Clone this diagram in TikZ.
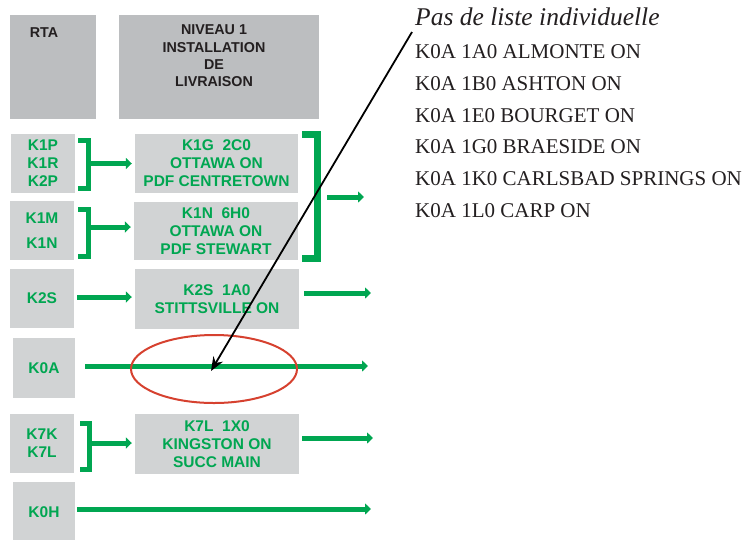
\documentclass[tikz,border=0pt]{standalone}
\usepackage{fontspec}
\setmainfont{Liberation Serif}
\setsansfont{Liberation Sans}
\usetikzlibrary{arrows.meta,shapes.geometric}
\definecolor{hdrgray}{HTML}{BCBEC0}
\definecolor{boxgray}{HTML}{D1D3D4}
\definecolor{pgreen}{HTML}{00A651}
\definecolor{ered}{HTML}{D6412F}
\definecolor{dtext}{HTML}{231F20}
\begin{document}
\begin{tikzpicture}[x=1pt,y=-1pt,
  hdr/.style={fill=hdrgray, draw=none, inner sep=0},
  gbox/.style={fill=boxgray, draw=none, inner sep=0, text=pgreen, align=center,
    font=\sffamily\bfseries\fontsize{15.5}{18}\selectfont},
  htxt/.style={text=dtext, align=center, inner sep=0,
    font=\sffamily\bfseries\fontsize{14.3}{17.3}\selectfont},
  garrow/.style={draw=pgreen, line width=5pt, -{Triangle[length=6pt,width=11pt]}},
  brk/.style={draw=pgreen, line width=5pt, miter limit=10},
  listtxt/.style={anchor=base west, text=dtext, inner sep=0,
    font=\fontsize{21}{24}\selectfont}]
\useasboundingbox (0,0) rectangle (751,539);

% headers
\node[hdr, minimum width=86pt, minimum height=104pt] (hrta) at (53,67) {};
\node[htxt] (hrtat) at (44,33) {RTA};
\node[hdr, minimum width=200pt, minimum height=104pt] (hniv) at (219,67) {};
\node[htxt] (hnivt) at (214,56) {NIVEAU 1\\INSTALLATION\\DE\\LIVRAISON};

% left boxes
\node[gbox, minimum width=64pt, minimum height=59pt] (L1) at (43,163.5) {K1P\\K1R\\K2P};
\node[gbox, minimum width=64pt, minimum height=59pt] (L2) at (42,230.5) {K1M\\[7pt]K1N};
\node[gbox, minimum width=64pt, minimum height=59pt] (L3) at (42,298.5) {K2S};
\node[gbox, minimum width=62pt, minimum height=60pt] (L4) at (44,368) {K0A};
\node[gbox, minimum width=64pt, minimum height=59pt] (L5) at (42,443.5) {K7K\\K7L};
\node[gbox, minimum width=62pt, minimum height=60pt] (L6) at (44,512) {K0H};

% right boxes
\node[gbox, minimum width=163pt, minimum height=59pt] (R1) at (216.5,163.5) {K1G\ \ 2C0\\OTTAWA ON\\PDF CENTRETOWN};
\node[gbox, minimum width=164pt, minimum height=58pt] (R2) at (216,231) {K1N\ \ 6H0\\OTTAWA ON\\PDF STEWART};
\node[gbox, minimum width=164pt, minimum height=60pt] (R3) at (217,299) {K2S\ \ 1A0\\STITTSVILLE ON};
\node[gbox, minimum width=164pt, minimum height=60pt] (R5) at (217,444) {K7L\ \ 1X0\\KINGSTON ON\\SUCC MAIN};

% small brackets and arrows
\coordinate (b1) at (88,163.5);
\draw[brk] (78,140) -- (88,140) -- (88,188) -- (78,188);
\draw[garrow, shorten >=3pt] (b1) -- (b1 -| R1.west);

\coordinate (b2) at (88,227);
\draw[brk] (78,209) -- (88,209) -- (88,256) -- (78,256);
\draw[garrow, shorten >=3pt] (b2) -- (b2 -| R2.west);

% big bracket
\draw[draw=pgreen, line width=7pt] (302,134.5) -- (317,134.5) -- (317,258.5) -- (302,258.5);
\coordinate (bbs) at (327,197);
\coordinate (bbe) at (364,197);
\draw[garrow] (bbs) -- (bbe);

% row 3
\coordinate (a3s) at (77,297);
\draw[garrow, shorten >=3pt] (a3s) -- (a3s -| R3.west);
\coordinate (a3o) at (304,293);
\coordinate (a3e) at (371,293);
\draw[garrow] (a3o) -- (a3e);

% row 4 K0A
\coordinate (a4s) at (85,366);
\coordinate (a4e) at (368,366);
\draw[garrow] (a4s) -- (a4e);
\node[ellipse, draw=ered, line width=2pt, minimum width=166pt, minimum height=68pt, inner sep=0] (ell) at (214,369) {};

% row 5
\coordinate (b5) at (89,443);
\draw[brk] (80,423) -- (89,423) -- (89,469) -- (80,469);
\draw[garrow, shorten >=3pt] (b5) -- (b5 -| R5.west);
\coordinate (a5o) at (302,438);
\coordinate (a5e) at (373,438);
\draw[garrow] (a5o) -- (a5e);

% row 6
\coordinate (a6s) at (77,509);
\coordinate (a6e) at (371,509);
\draw[garrow] (a6s) -- (a6e);

% right texts
\node[anchor=base west, inner sep=0, text=dtext, font=\itshape\fontsize{25.5}{30}\selectfont] (title) at (415,25) {Pas de liste individuelle};
\node[listtxt] (l1) at (415,58) {K0A 1A0 ALMONTE ON};
\node[listtxt] (l2) at (415,90) {K0A 1B0 ASHTON ON};
\node[listtxt] (l3) at (415,122) {K0A 1E0 BOURGET ON};
\node[listtxt] (l4) at (415,153) {K0A 1G0 BRAESIDE ON};
\node[listtxt] (l5) at (415,185) {K0A 1K0 CARLSBAD SPRINGS ON};
\node[listtxt] (l6) at (415,217) {K0A 1L0 CARP ON};

% pointer
\coordinate (ptr) at (412,32);
\coordinate (tip) at (211,371);
\draw[draw=black, line width=1.8pt, -{Stealth[length=14pt,width=11pt]}] (ptr) -- (tip);
\end{tikzpicture}
\end{document}
